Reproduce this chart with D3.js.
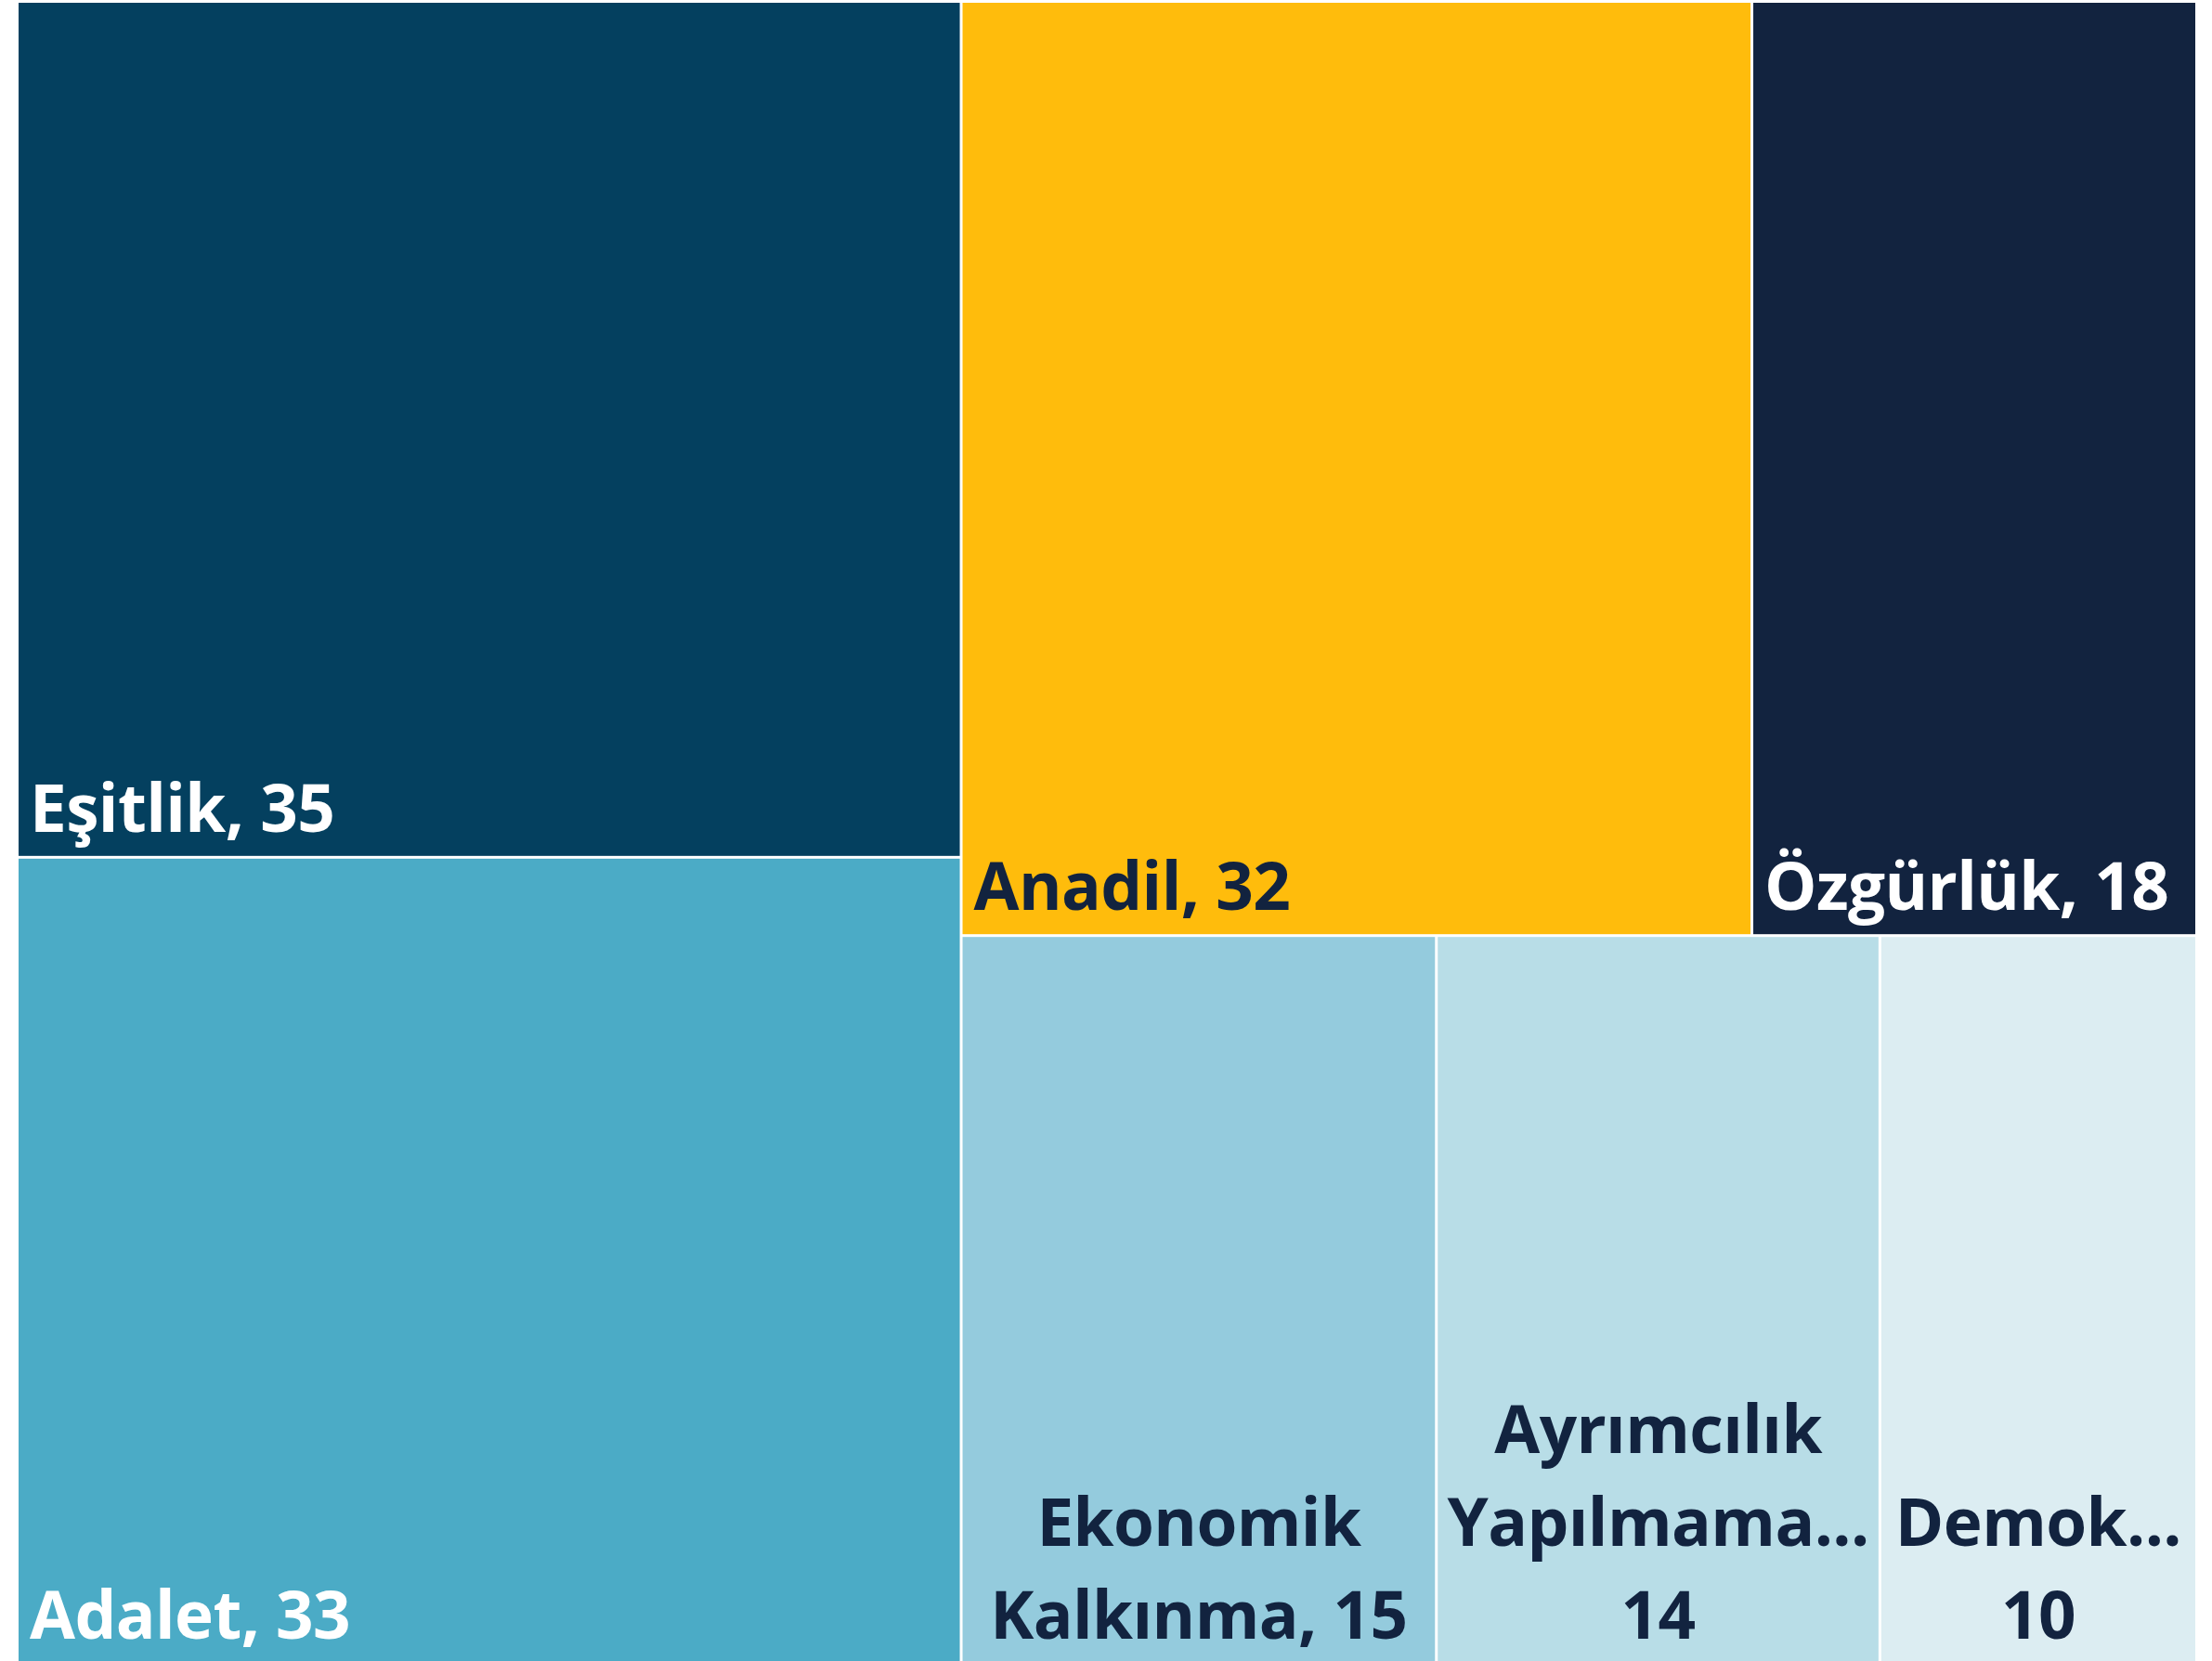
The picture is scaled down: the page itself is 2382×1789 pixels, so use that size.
<!DOCTYPE html>
<html>
<head>
<meta charset="utf-8">
<script src="https://cdn.jsdelivr.net/npm/d3@7"></script>
<style>
  body { margin: 0; background: #fff; }
  text { font-family: "Open Sans", "Noto Sans", sans-serif; font-weight: 700; letter-spacing: -0.6px; }
</style>
</head>
<body>
<div id="chart"></div>
<script>
// categories and counts
const categories = ["Eşitlik", "Adalet", "Anadil", "Özgürlük", "Ekonomik Kalkınma", "Ayrımcılık Yapılmaması", "Demokrasi"];
const counts = [35, 33, 32, 18, 15, 14, 10];
const palette = ["#04405f", "#4babc6", "#ffbc0c", "#12233f", "#94cbdd", "#b8dde7", "#dcedf2"];

const width = 2382, height = 1789;
const margin = { top: 3, right: 18, bottom: -2, left: 20 };
const fontSize = 71, lineHeight = 100;
const darkText = "#12233f";

const svg = d3.select("#chart").append("svg")
    .attr("width", width)
    .attr("height", height);

const data = categories.map((c, i) => ({ name: c, value: counts[i], color: palette[i] }));

// squarified rows; the last strip takes whatever is left and is cut along its long side
function tile(parent, x0, y0, x1, y1) {
    const nodes = parent.children, n = nodes.length;
    const ratio = (1 + Math.sqrt(5)) / 2;
    let value = parent.value, i = 0;
    while (i < n) {
        const dx = x1 - x0, dy = y1 - y0;
        let sum = nodes[i].value, minV = sum, maxV = sum;
        const alpha = Math.max(dy / dx, dx / dy) / (value * ratio);
        let beta = sum * sum * alpha;
        let best = Math.max(maxV / beta, beta / minV);
        let j = i + 1;
        for (; j < n; j++) {
            const v = nodes[j].value, s = sum + v;
            const mn = Math.min(minV, v), mx = Math.max(maxV, v);
            beta = s * s * alpha;
            const r = Math.max(mx / beta, beta / mn);
            if (r > best) break;
            sum = s; minV = mn; maxV = mx; best = r;
        }
        if (n - j <= 1) {
            const rest = { children: nodes.slice(i), value: value };
            (dx >= dy ? d3.treemapDice : d3.treemapSlice)(rest, x0, y0, x1, y1);
            return;
        }
        const row = { children: nodes.slice(i, j), value: sum };
        if (dx < dy) {
            const h = dy * sum / value;
            d3.treemapDice(row, x0, y0, x1, y0 + h);
            y0 += h;
        } else {
            const w = dx * sum / value;
            d3.treemapSlice(row, x0, y0, x0 + w, y1);
            x0 += w;
        }
        value -= sum;
        i = j;
    }
}

const root = d3.hierarchy({ children: data })
    .sum(d => d.value || 0)
    .sort((a, b) => b.value - a.value);

d3.treemap()
    .tile(tile)
    .size([width - margin.left - margin.right, height - margin.top - margin.bottom])
    .paddingInner(3)(root);

const g = svg.append("g")
    .attr("transform", "translate(" + margin.left + "," + margin.top + ")");

const cell = g.selectAll("g.cell")
    .data(root.leaves())
    .enter().append("g")
    .attr("class", "cell")
    .attr("transform", d => "translate(" + d.x0 + "," + d.y0 + ")");

cell.append("rect")
    .attr("width", d => d.x1 - d.x0)
    .attr("height", d => d.y1 - d.y0)
    .style("fill", d => d.data.color);

function luminance(c) {
    const rgb = d3.rgb(c);
    const f = v => { v /= 255; return v <= 0.03928 ? v / 12.92 : Math.pow((v + 0.055) / 1.055, 2.4); };
    return 0.2126 * f(rgb.r) + 0.7152 * f(rgb.g) + 0.0722 * f(rgb.b);
}

const padX = 12, padWrap = 8, padBottom = 26;

cell.each(function (d) {
    const sel = d3.select(this);
    const w = d.x1 - d.x0, h = d.y1 - d.y0;
    const fill = luminance(d.data.color) > 0.4 ? darkText : "#fff";
    const label = d.data.name + ", " + d.data.value;

    const t = sel.append("text")
        .style("font-size", fontSize + "px")
        .style("fill", fill);

    const measure = s => { t.text(s); return t.node().getComputedTextLength(); };

    if (measure(label) <= w - 2 * padX) {
        t.attr("x", padX).attr("y", h - padBottom).text(label);
        return;
    }

    // wrap word by word, cut words that are too long
    const avail = w - 2 * padWrap;
    const words = label.split(" ");
    const lines = [];
    let cur = "";
    words.forEach(wd => {
        const tryLine = cur ? cur + " " + wd : wd;
        if (measure(tryLine) <= avail) { cur = tryLine; }
        else {
            if (cur) lines.push(cur);
            cur = wd;
        }
    });
    if (cur) lines.push(cur);

    const fitted = lines.map(line => {
        if (measure(line) <= avail) return line;
        let s = line.replace(/,$/, "");
        while (s.length > 1 && measure(s + "...") > avail) s = s.slice(0, -1);
        return s + "...";
    });

    t.text(null);
    fitted.forEach((line, k) => {
        t.append("tspan")
            .attr("x", w / 2)
            .attr("y", h - padBottom - (fitted.length - 1 - k) * lineHeight)
            .attr("text-anchor", "middle")
            .text(line);
    });
});
</script>
</body>
</html>
